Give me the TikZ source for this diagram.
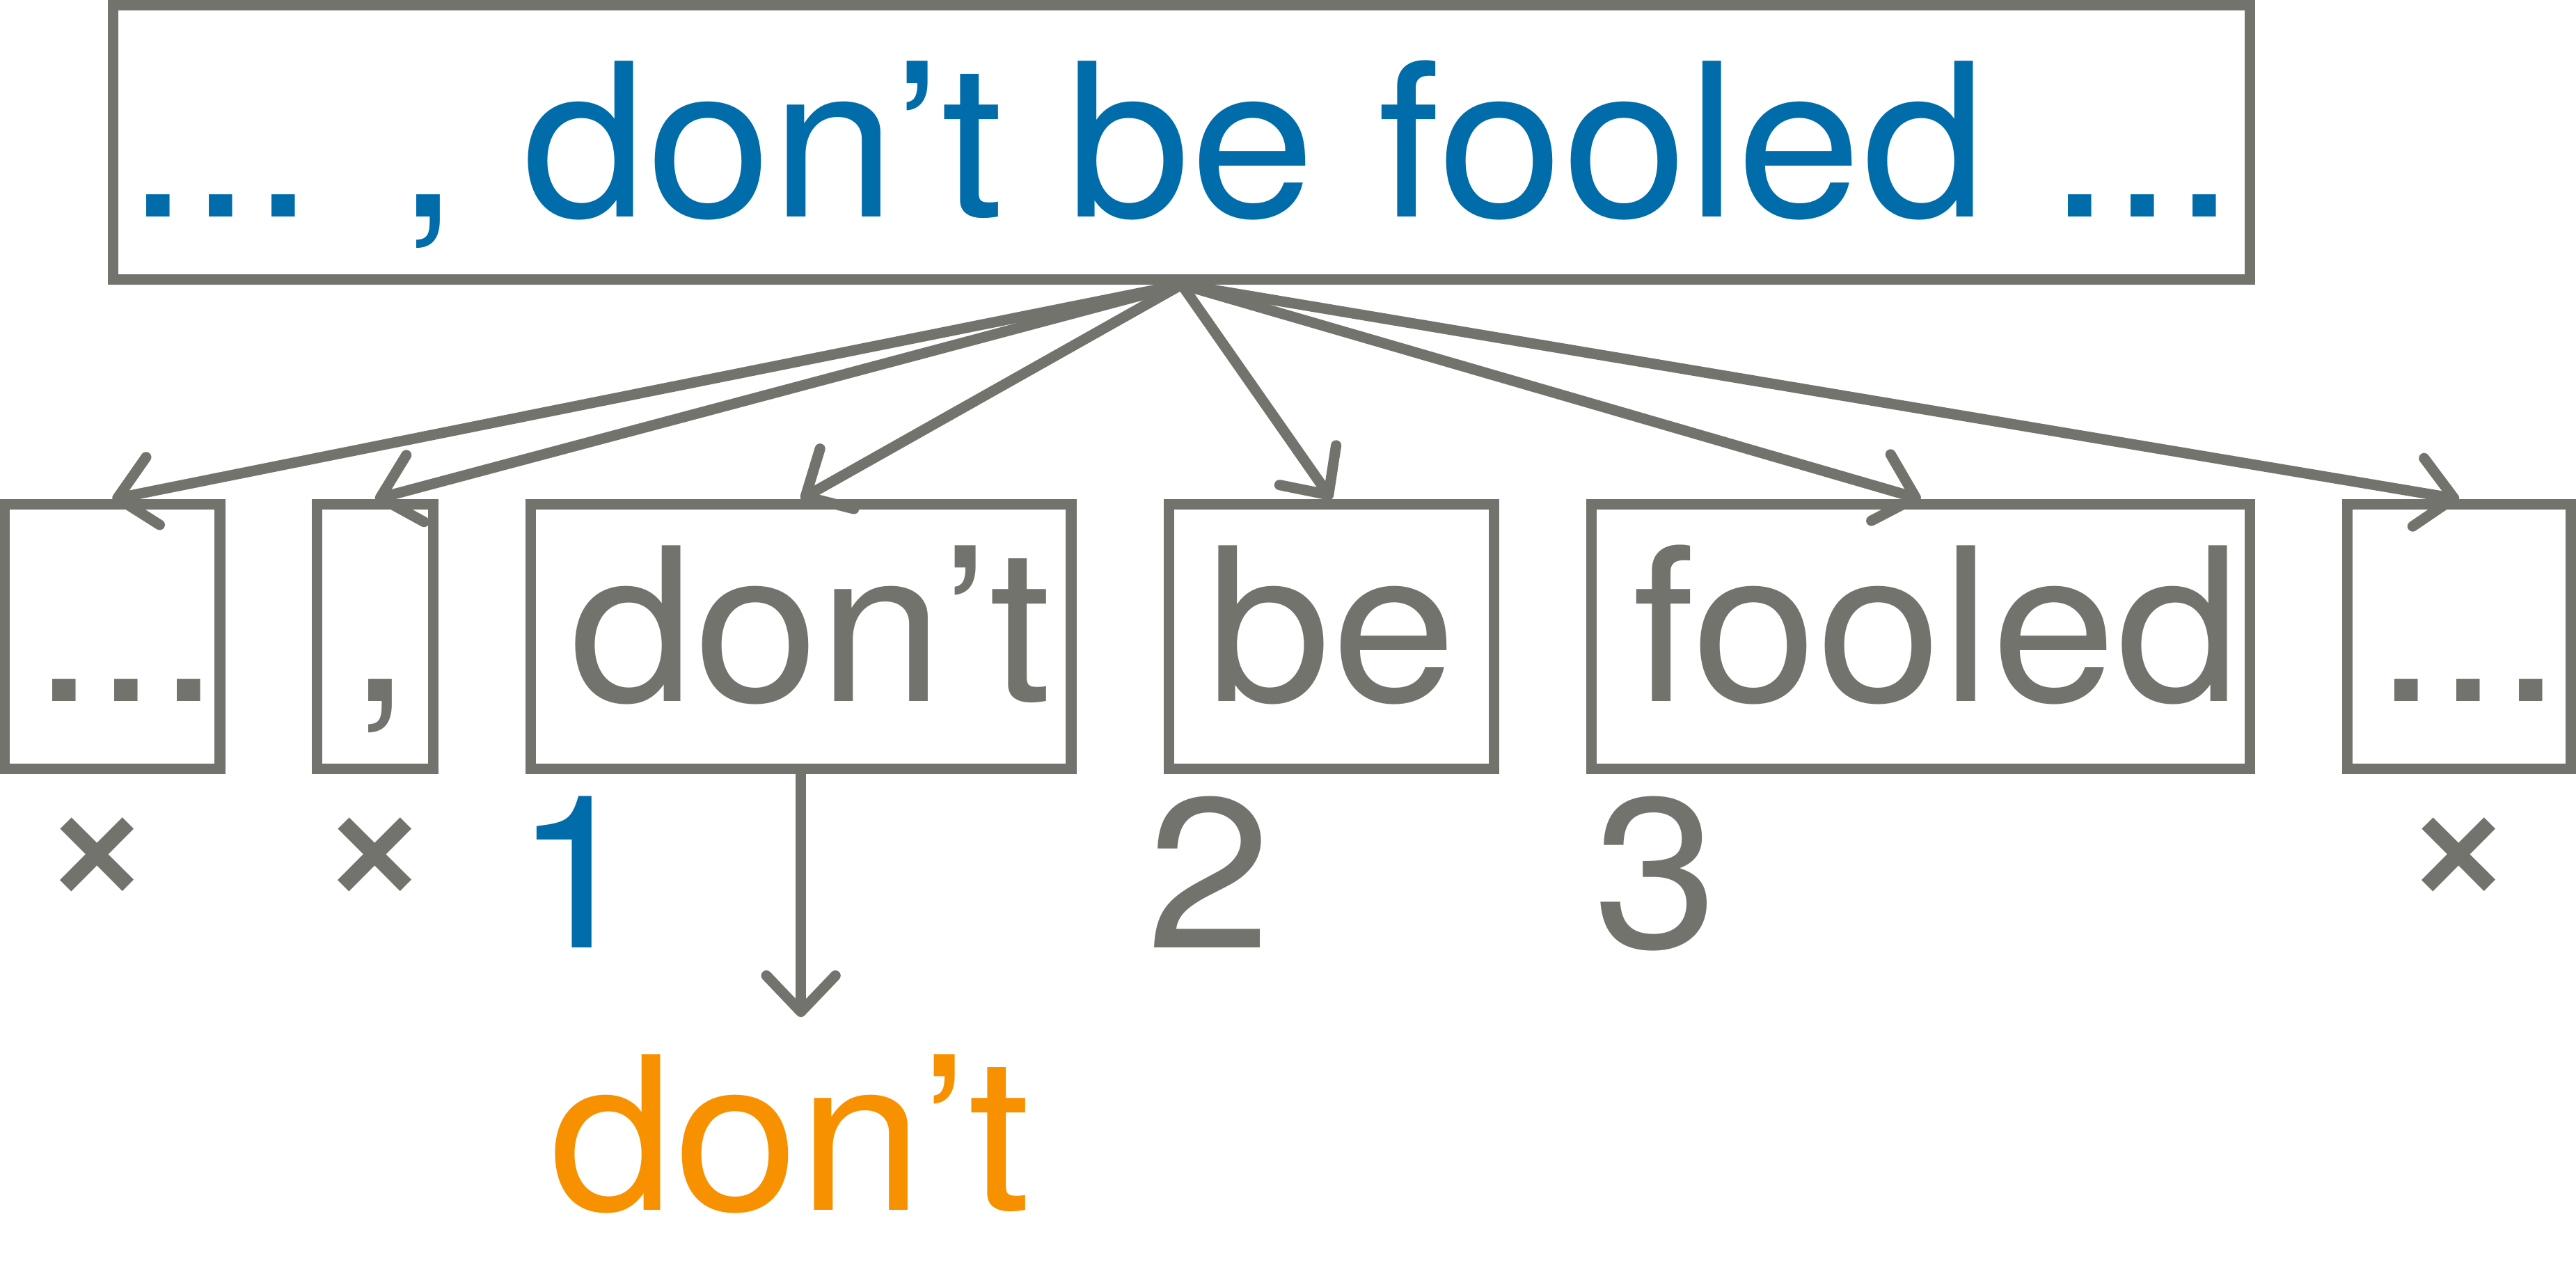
\documentclass[tikz,border=0pt]{standalone}
\usepackage{fontspec}
\setmainfont[FakeStretch=1.05]{TeX Gyre Heros}
\newfontfamily\crossfont{Liberation Sans}
\usetikzlibrary{arrows.meta}
\definecolor{lgray}{RGB}{115,115,110}
\definecolor{lblue}{RGB}{0,108,170}
\definecolor{lorange}{RGB}{248,145,0}
\begin{document}
\begin{tikzpicture}[x=0.5pt,y=-0.5pt,
  every node/.style={inner sep=0pt},
  bigfont/.style={font=\fontsize{65}{78}\selectfont},
  box/.style={draw=lgray, line width=3.2pt, rectangle, minimum height=80.5pt,
    text height=46.5pt, text depth=7pt, text=lgray, bigfont},
  topbox/.style={draw=lgray, line width=3.2pt, rectangle, minimum width=650.25pt,
    minimum height=83.5pt, text height=46.5pt, text depth=1pt, text=lblue, bigfont},
  conn/.style={draw=lgray, line width=3.2pt, -{Straight Barb[length=11pt,width=21pt,round]}},
  num/.style={anchor=base, bigfont},
  cross/.style={anchor=base, text=lgray, font=\crossfont\bfseries\fontsize{45}{54}\selectfont}
]
\useasboundingbox (0,0) rectangle (1568,772.35);
\node[topbox] (top) at (719.25,86.5) {... , don’t be fooled ...\hspace{5pt}};
\node[box, minimum width=65.15pt] (b1) at (68.35,387.5) {\hspace{8.6pt}...};
\node[box, minimum width=35.35pt] (b2) at (228.35,387.5) {\hspace{3pt},};
\node[box, minimum width=164.5pt] (b3) at (487.5,387.5) {\hspace{5.9pt}don’t};
\node[box, minimum width=99pt] (b4) at (810.5,387.5) {be};
\node[box, minimum width=200.35pt] (b5) at (1169.15,387.5) {\hspace{9.6pt}fooled};
\node[box, minimum width=68.1pt] (b6) at (1496.9,387.5) {\hspace{5.7pt}...};
\foreach \b in {b1,b2,b3,b4,b5,b6}
  \draw[conn] (top.south) -- (\b.north);
\coordinate (tipd) at (487.5,619);
\draw[conn] (b3.south) -- (tipd);
\node[anchor=base, bigfont, text=lorange] (out) at (481,736.5) {don’t};
\node[num, text=lblue] (n1) at (351,577) {1};
\node[num, text=lgray] (n2) at (736,577) {2};
\node[num, text=lgray] (n3) at (1008,577) {3};
\node[cross] (x1) at (59.3,550) {×};
\node[cross] (x2) at (228,550) {×};
\node[cross] (x6) at (1496.6,550) {×};
\end{tikzpicture}
\end{document}
